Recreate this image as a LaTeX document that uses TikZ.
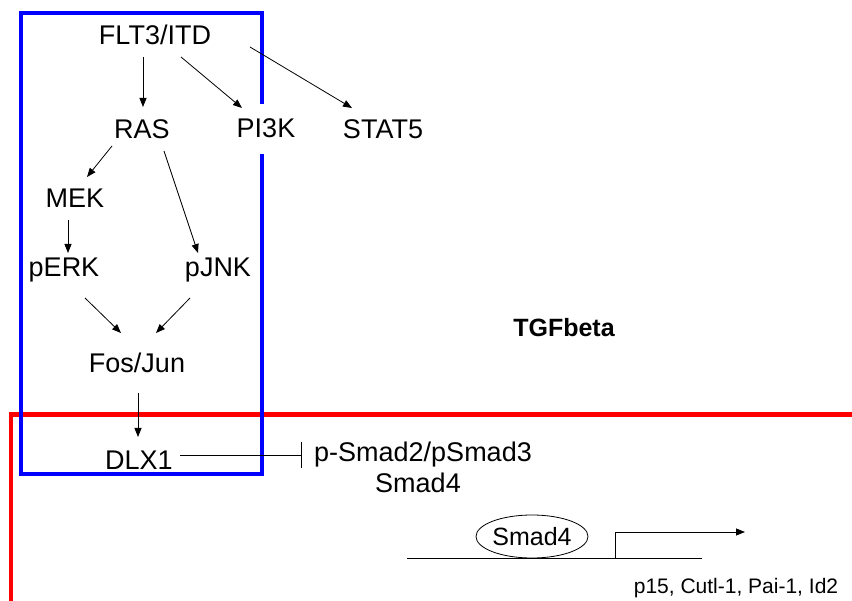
\documentclass[tikz,border=0pt]{standalone}
\usepackage{fontspec}
\setmainfont{Liberation Sans}
\usetikzlibrary{arrows.meta,shapes.geometric}
\begin{document}
\begin{tikzpicture}[x=1pt,y=-1pt,
  lbl/.style={anchor=base, inner sep=0pt, font=\fontsize{27}{31}\selectfont},
  arr/.style={-{Triangle[length=9pt,width=7pt]}, line width=0.8pt},
  inh/.style={-{Bar[width=26pt]}, line width=0.8pt},
  thin/.style={line width=0.8pt},
  bluebox/.style={draw=blue, line width=4.5pt},
  redline/.style={draw=red, line width=4.5pt}
]
\useasboundingbox (0,0) rectangle (852,601);
% red line
\coordinate (r1) at (852,414.5);
\coordinate (r2) at (11,414.5);
\coordinate (r3) at (11,601);
\draw[redline] (r1) -- (r2) -- (r3);
% blue box
\draw[bluebox] (21,13) rectangle (262,474);
% nodes
\node[lbl] (flt) at (155,45) {FLT3/ITD};
\node[lbl] (ras) at (142,139) {RAS};
\node[lbl, fill=white, minimum height=50pt] (pi3k) at (266,138) {PI3K};
\node[lbl] (stat) at (383,139) {STAT5};
\node[lbl] (mek) at (75,208) {MEK};
\node[lbl] (perk) at (64,277) {pERK};
\node[lbl] (pjnk) at (218,277) {pJNK};
\node[lbl] (fos) at (137,373) {Fos/Jun};
\node[lbl] (dlx) at (139,470) {DLX1};
\node[lbl] (psmad) at (423,462) {p-Smad2/pSmad3};
\node[lbl] (smad4) at (418,493) {Smad4};
\node[anchor=base, inner sep=0pt, font=\fontsize{25}{29}\selectfont\bfseries] (tgf) at (564,337) {TGFbeta};
% connectors
\draw[arr] ([xshift=-12pt,yshift=-12pt]flt.base) -- ([xshift=1pt,yshift=32pt]ras.base);
\draw[arr] ([xshift=26pt,yshift=-12pt]flt.base) -- ([xshift=-24pt,yshift=30pt]pi3k.base);
\draw[arr] ([xshift=95pt,yshift=-2pt]flt.base) -- ([xshift=-31pt,yshift=31pt]stat.base);
\draw[arr] ([xshift=-30pt,yshift=-7pt]ras.base) -- ([xshift=12pt,yshift=31pt]mek.base);
\draw[arr] ([xshift=22pt,yshift=-12pt]ras.base) -- ([xshift=-20pt,yshift=24pt]pjnk.base);
\draw[arr] ([xshift=-7pt,yshift=-12pt]mek.base) -- ([xshift=4pt,yshift=24pt]perk.base);
\draw[arr] ([xshift=21pt,yshift=-21pt]perk.base) -- ([xshift=-16pt,yshift=40pt]fos.base);
\draw[arr] ([xshift=-28pt,yshift=-21pt]pjnk.base) -- ([xshift=19pt,yshift=40pt]fos.base);
\draw[arr] ([xshift=1pt,yshift=-20pt]fos.base) -- ([xshift=-1pt,yshift=33pt]dlx.base);
\draw[inh] ([xshift=41pt,yshift=15pt]dlx.base) -- ([xshift=-121pt,yshift=7pt]psmad.base);
% gene with Smad4 binding and promoter
\coordinate (g1) at (407,558);
\coordinate (g2) at (702,558);
\coordinate (p0) at (615,558);
\coordinate (p1) at (615,532);
\coordinate (p2) at (745,532);
\draw[thin] (g1) -- (g2);
\node[ellipse, draw, thin, inner sep=0pt, minimum width=97pt, minimum height=43pt,
      font=\fontsize{25}{29}\selectfont] (sme) at (532,536.5) {Smad4};
\draw[arr] (p0) -- (p1) -- (p2);
\node[anchor=base, inner sep=0pt, font=\fontsize{21}{25}\selectfont] (genes) at (736,593) {p15, Cutl-1, Pai-1, Id2};
\end{tikzpicture}
\end{document}
